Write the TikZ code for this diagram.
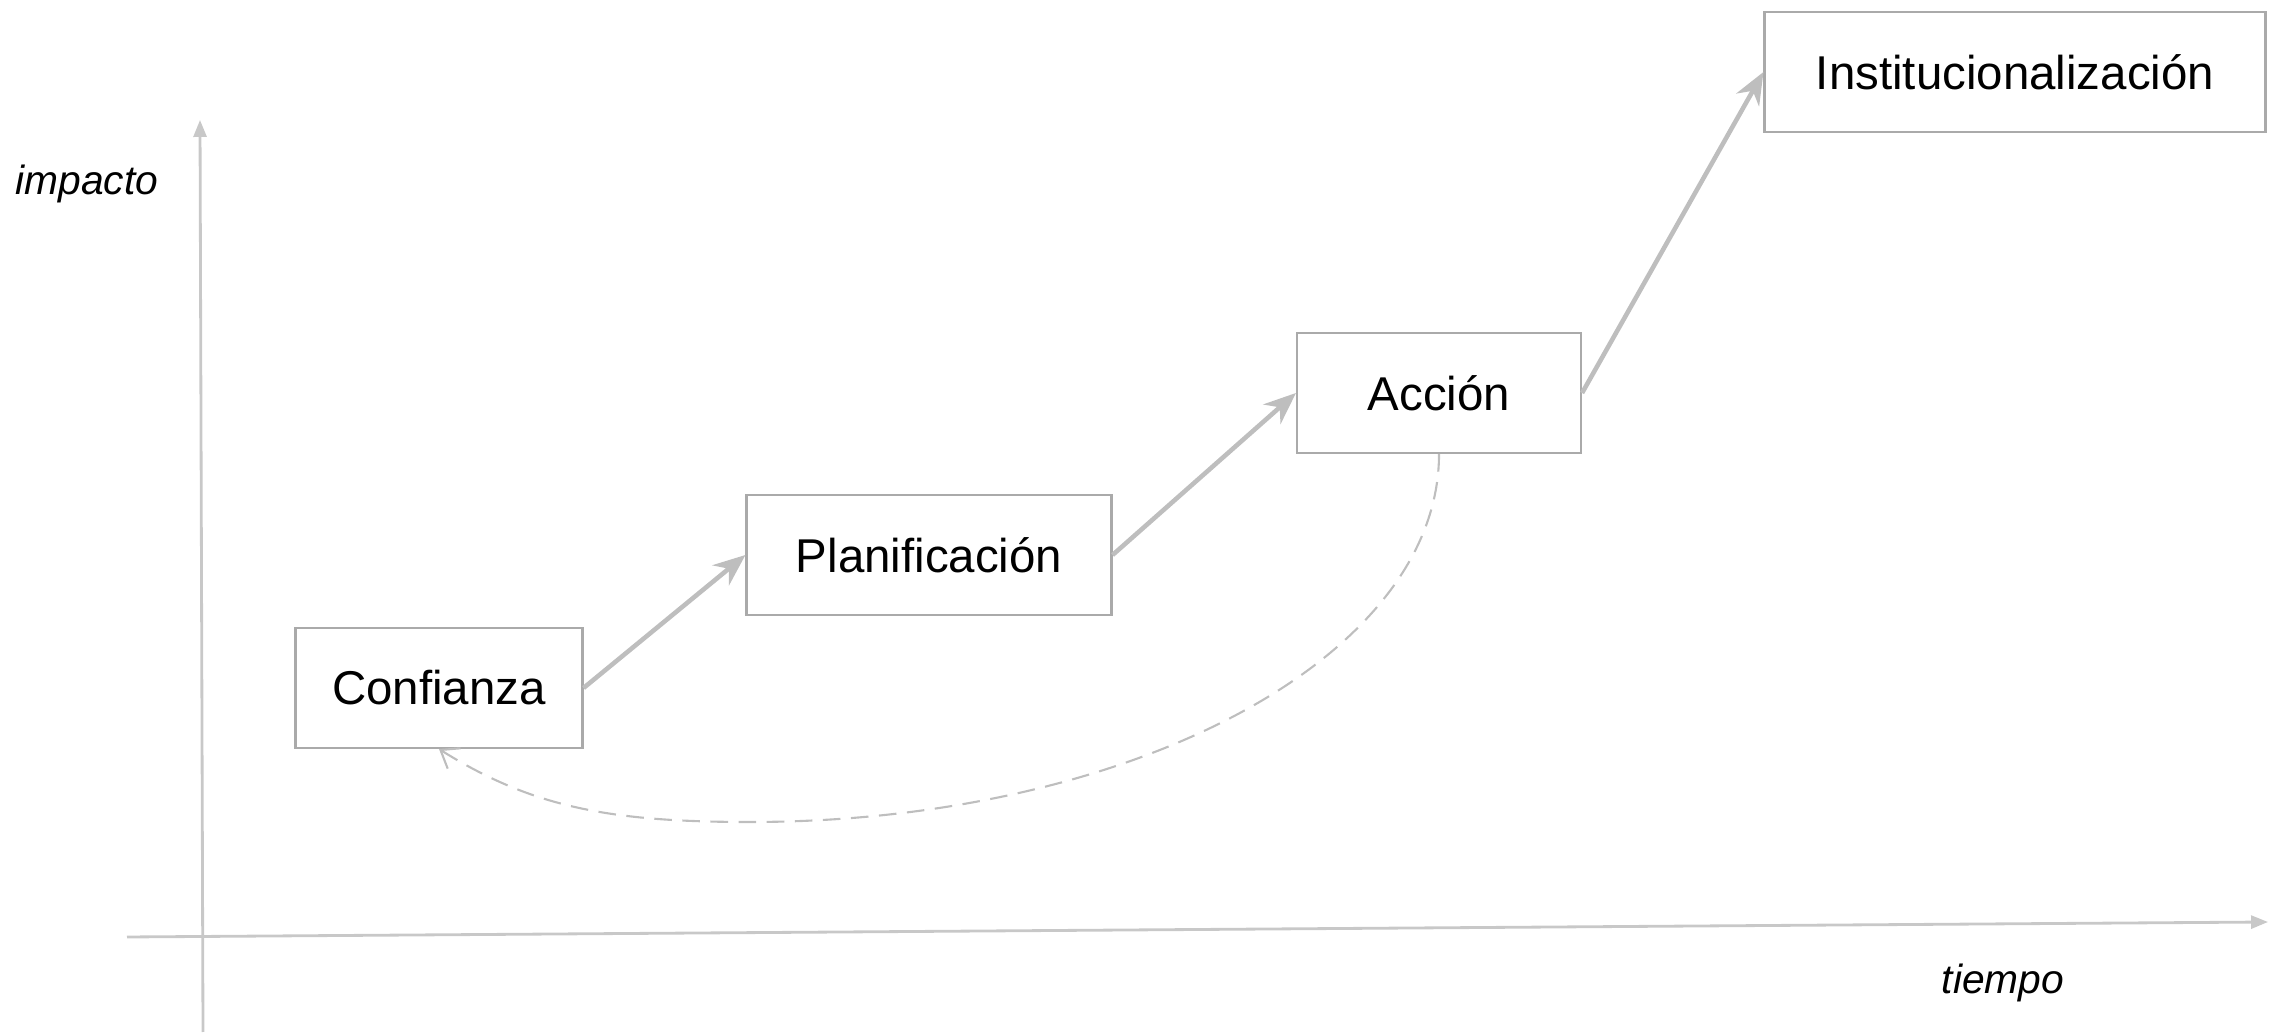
\documentclass[tikz,border=0pt]{standalone}
\usepackage{fontspec}
\setmainfont{Liberation Sans}
\usetikzlibrary{arrows.meta}
\definecolor{boxgray}{RGB}{170,170,170}
\definecolor{arrowgray}{RGB}{190,190,190}
\definecolor{axisgray}{RGB}{200,200,200}

\begin{document}
\begin{tikzpicture}[
    stage/.style={rectangle, draw=boxgray, line width=0.6pt, minimum height=1.2cm, font=\fontsize{13.5}{16}\selectfont},
    advance/.style={draw=arrowgray, line width=1.3pt, -{Stealth[length=3.2mm, width=2.6mm]}},
    axis/.style={draw=axisgray, line width=0.8pt, -{Triangle[length=1.7mm, width=1.3mm]}},
    feedback/.style={draw=arrowgray, line width=0.6pt, dashed, dash pattern=on 5pt off 3pt, -{Straight Barb[length=1.6mm, width=2.4mm]}},
    axislabel/.style={font=\fontsize{11.6}{14}\selectfont\itshape}]
  \useasboundingbox (0,0) rectangle (22.7,10.34);

  % axes
  \coordinate (yfrom) at (2.03,0.02);
  \coordinate (yto) at (2.00,9.14);
  \coordinate (xfrom) at (1.27,0.97);
  \coordinate (xto) at (22.68,1.12);
  \draw[axis] (yfrom) -- (yto);
  \draw[axis] (xfrom) -- (xto);
  \node[axislabel] (impacto) at (0.87,8.50) {impacto};
  \node[axislabel] (tiempo) at (20.03,0.51) {tiempo};

  \node[stage, minimum width=2.87cm] (conf) at (4.39,3.46) {Confianza};
  \node[stage, minimum width=3.65cm] (plan) at (9.29,4.79) {Planificación};
  \node[stage, minimum width=2.84cm] (acc) at (14.39,6.41) {Acción};
  \node[stage, minimum width=5.01cm] (inst) at (20.15,9.62) {Institucionalización};

  \draw[advance] (conf.east) -- (plan.west);
  \draw[advance] (plan.east) -- (acc.west);
  \draw[advance] (acc.east) -- (inst.west);

  % vuelta
  \coordinate (low) at (7.5,2.12);
  \draw[feedback] (acc.south) .. controls +(0,-2.04) and +(3.8,0) .. (low)
    .. controls +(-1.4,0) and +(-32:1.1) .. (conf.south);
\end{tikzpicture}
\end{document}
